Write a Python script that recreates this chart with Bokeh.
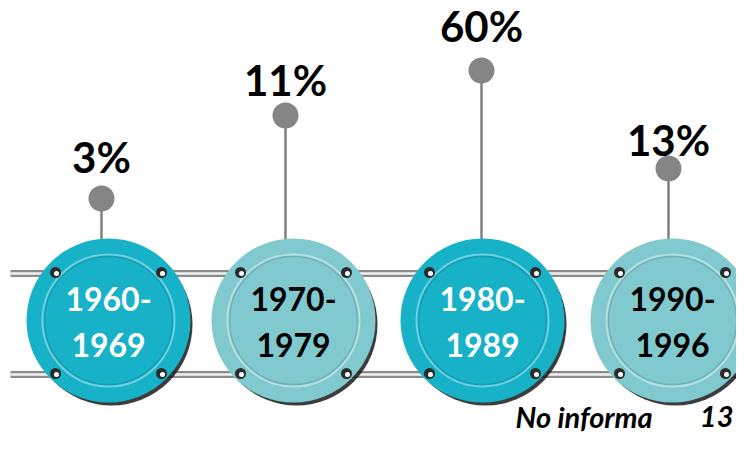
from bokeh.plotting import figure
from bokeh.models import Range1d, ColumnDataSource
from bokeh.core.properties import value
from bokeh.embed import file_html
from bokeh.resources import INLINE

# ---- data ----
period_start = ["1960-", "1970-", "1980-", "1990-"]
period_end = ["1969", "1979", "1989", "1996"]
shares = [3, 11, 60, 13]
no_info_label = "No informa"
no_info_value = 13

# ---- layout (reference pixel space) ----
cx = [108, 293, 482, 672]
stem_x = [101, 285, 481, 668]
cy = 320
pin_top = [198, 115, 70, 168]
label_y = [156, 79, 25, 139]
fill = ["#17b2c8", "#80c9cf", "#17b2c8", "#80c9cf"]
ring = ["#6fd0de", "#b5e0e3", "#6fd0de", "#b5e0e3"]
text_col = ["white", "black", "white", "black"]
rail_y = [273, 374]

W, H = 736, 434
p = figure(width=W, height=H, output_backend="svg", toolbar_location=None,
           x_range=Range1d(0, W), y_range=Range1d(H, 0),
           min_border=0, outline_line_color=None, background_fill_color="white")
p.axis.visible = False
p.grid.visible = False

FONT = value("Lato")

# rails
for ry in rail_y:
    p.line([10, 760], [ry, ry], line_color="#8a8a8a", line_width=7)
    p.line([10, 760], [ry, ry], line_color="#f2f2f2", line_width=2.5)

# stems and pins
for x, t in zip(stem_x, pin_top):
    p.line([x, x], [t, 250], line_color="#808080", line_width=2.5)
p.circle(x=stem_x, y=pin_top, radius=13, fill_color="#858585", line_color=None)

# share labels
p.text(x=stem_x, y=label_y, text=[f"{v}%" for v in shares], text_font=FONT,
       text_font_style="bold", text_font_size="42px", text_align="center",
       text_baseline="middle", text_color="black")

# circles: shadow, outer disc, inner ring
src = ColumnDataSource(dict(x=cx, y=[cy] * 4, fill=fill, ring=ring, col=text_col,
                            sx=[c + 3 for c in cx], sy=[cy + 4] * 4,
                            ty=[298] * 4, by=[344] * 4,
                            top=period_start, bot=period_end))
p.circle(x="sx", y="sy", radius=81, source=src, fill_color="#1a1a1a",
         fill_alpha=0.85, line_color=None)
p.circle(x="x", y="y", radius=82, source=src, fill_color="fill", line_color=None)
p.circle(x="x", y="y", radius=66, source=src, fill_color="fill",
         line_color="ring", line_width=2)
p.circle(x="x", y="y", radius=64, source=src, fill_color=None,
         line_color="#000000", line_alpha=0.12, line_width=1.5)

# bolts
bx, by = [], []
for x in cx:
    for dx in (-53, 53):
        for ry in rail_y:
            bx.append(x + dx)
            by.append(ry - 1)
p.circle(x=bx, y=by, radius=5.5, fill_color="#2b2b2b", line_color=None)
p.circle(x=[b + 1 for b in bx], y=[b + 1 for b in by], radius=2.5,
         fill_color="white", line_color=None)

# period labels
p.text(x="x", y="ty", text="top", source=src, text_font=FONT,
       text_font_style="bold", text_font_size="32px", text_align="center",
       text_baseline="middle", text_color="col")
p.text(x="x", y="by", text="bot", source=src, text_font=FONT,
       text_font_style="bold", text_font_size="32px", text_align="center",
       text_baseline="middle", text_color="col")

# no info note
p.text(x=[515], y=[416], text=[no_info_label], text_font=FONT,
       text_font_style="bold italic", text_font_size="29px", text_align="left",
       text_baseline="middle", text_color="black")
p.text(x=[733], y=[416], text=[str(no_info_value)], text_font=FONT,
       text_font_style="bold italic", text_font_size="29px", text_align="right",
       text_baseline="middle", text_color="black")

open("out.html", "w").write(file_html(p, INLINE))
